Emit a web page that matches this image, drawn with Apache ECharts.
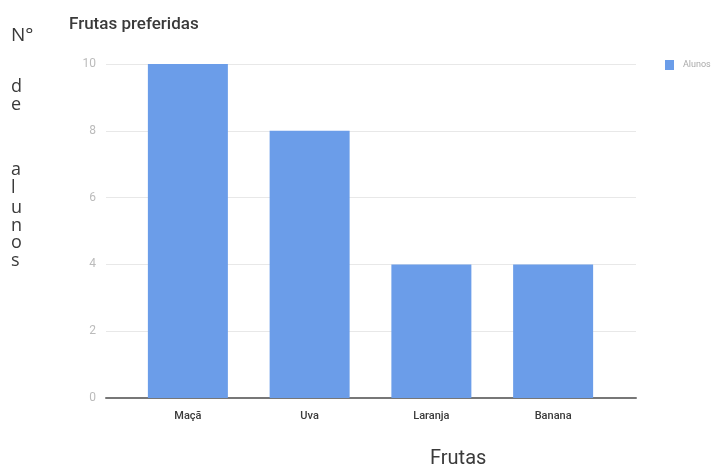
<!DOCTYPE html>
<html><head><meta charset="utf-8">
<script src="https://cdn.jsdelivr.net/npm/echarts@6/dist/echarts.min.js"></script>
<style>html,body{margin:0;padding:0;background:#fff}#c{width:721px;height:468px}</style>
</head><body><div id="c"></div>
<script>
const categories = ['Maçã', 'Uva', 'Laranja', 'Banana'];
const alunos = [10, 8, 4, 4];
const yTicks = [0, 2, 4, 6, 8, 10];

const chart = echarts.init(document.getElementById('c'));
const font = 'Roboto, "Noto Sans", sans-serif';
const font2 = '"Open Sans", "Noto Sans", sans-serif';
const vLetters = [['d', 89], ['e', 107], ['a', 172], ['l', 190], ['u', 210], ['n', 228], ['o', 245], ['s', 263]];
const graphics = vLetters.map(([t, y]) => ({
  type: 'text', left: 11, top: y - 11,
  style: { text: t, font: '18px ' + font2, fill: '#3a3a3a' }
}));
graphics.push({ type: 'text', left: 11, top: 26, style: { text: 'N°', font: '19px ' + font2, fill: '#3a3a3a' } });

chart.setOption({
  animation: false,
  title: [
    { text: 'Frutas preferidas', left: 64, top: 11,
      textStyle: { fontFamily: font, fontSize: 17, fontWeight: 500, color: '#3a3a3a' } },
    { text: 'Frutas', left: 425, top: 444,
      textStyle: { fontFamily: font, fontSize: 20, fontWeight: 'normal', color: '#3a3a3a' } }
  ],
  legend: {
    data: ['Alunos'], left: 660, top: 55, itemWidth: 9, itemHeight: 10, itemGap: 5,
    icon: 'rect',
    textStyle: { fontFamily: font, fontSize: 9, color: '#aaa', padding: [0, 0, 0, 4] }
  },
  graphic: graphics,
  grid: [
    { left: 127, right: 107, top: 64, bottom: 70 },
    { left: 106, right: 85, top: 64, bottom: 70 }
  ],
  xAxis: [
    { type: 'category', gridIndex: 0, data: categories,
      axisLine: { show: false }, axisTick: { show: false },
      axisLabel: { fontFamily: font, fontSize: 11, fontWeight: 500, color: '#3a3a3a', margin: 13 } },
    { type: 'value', gridIndex: 1, min: 0, max: 1, show: true,
      axisLine: { show: true, onZero: false, lineStyle: { color: '#777', width: 2 } },
      axisTick: { show: false }, axisLabel: { show: false }, splitLine: { show: false } }
  ],
  yAxis: [
    { type: 'value', gridIndex: 0, min: 0, max: 10, interval: 2, show: false },
    { type: 'value', gridIndex: 1, min: 0, max: 10, interval: 2,
      axisLine: { show: false }, axisTick: { show: false },
      axisLabel: { fontFamily: font, fontSize: 12, color: '#bbb', margin: 10 },
      splitLine: { lineStyle: { color: '#e8e8e8', width: 1 } } }
  ],
  series: [
    { name: 'Alunos', type: 'bar', xAxisIndex: 0, yAxisIndex: 0, data: alunos,
      barWidth: 80, itemStyle: { color: '#6b9de9' }, z: 3 }
  ]
});
</script></body></html>
